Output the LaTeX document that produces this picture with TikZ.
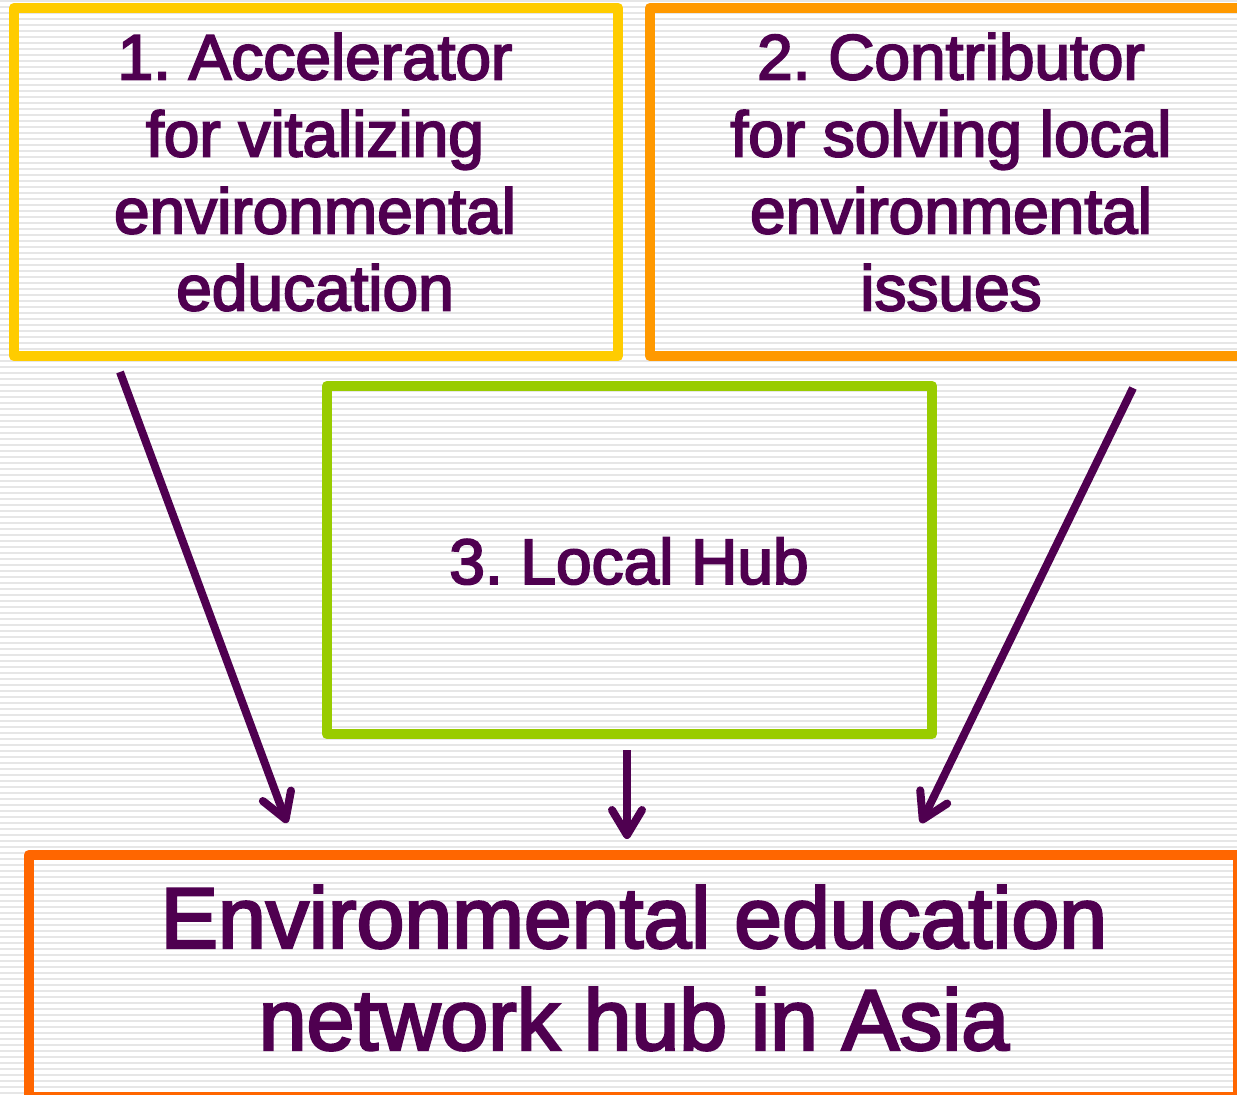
\documentclass[tikz,border=0pt]{standalone}
\usepackage{fontspec}
\setmainfont{Liberation Sans}[FakeBold=3]
\frenchspacing
\usetikzlibrary{arrows.meta}

\definecolor{txtpurple}{HTML}{4F0050}
\definecolor{accyellow}{HTML}{FFCC00}
\definecolor{conorange}{HTML}{FF9900}
\definecolor{hubgreen}{HTML}{99CC00}
\definecolor{netorange}{HTML}{FF6600}
\definecolor{stripegray}{HTML}{E6E6E6}

\begin{document}
\begin{tikzpicture}[x=1pt,y=-1pt,
  box/.style={draw,line width=10.5pt,line join=round,inner sep=0pt},
  boxtext/.style={text=txtpurple,align=center,inner sep=0pt,font=\fontsize{64}{77}\selectfont},
  flow/.style={draw=txtpurple,line width=8pt,-{Straight Barb[length=25pt,width=30pt,line cap=round,line join=round]}},
  stripe/.style={stripegray,line width=2.6pt}]

\useasboundingbox (0,0) rectangle (1237,1095);
\clip (0,0) rectangle (1237,1095);
\fill[white] (0,0) rectangle (1237,1095);

% \draw [red] (0,0) grid[step=100] (1237,1095);
\foreach \y in {1,7,...,1095}
  \draw[stripe] (0,\y) -- (1237,\y);

\node[box,draw=accyellow,minimum width=604,minimum height=348] (acc) at (316,182) {};
\node[box,draw=conorange,minimum width=602,minimum height=348] (con) at (951,182) {};
\node[box,draw=hubgreen,minimum width=605,minimum height=348] (hub) at (629.5,560) {};
\node[box,draw=netorange,minimum width=1209,minimum height=242] (net) at (633.5,976) {};

\node[boxtext] (acc-txt) at (315,172) {1. Accelerator\\for vitalizing\\environmental\\education};
\node[boxtext] (con-txt) at (951,172) {2. Contributor\\for solving local\\environmental\\issues};
\node[boxtext] (hub-txt) at (629,561) {3. Local Hub};
\node[boxtext,font=\fontsize{86}{102}\selectfont] (net-txt) at (634,968)
  {Environmental education\\network hub in Asia};

\coordinate (acc-out) at (120,372);
\coordinate (con-out) at (1133,388);
\coordinate (hub-out) at (627,750);
\coordinate (net-left) at (287,823);
\coordinate (net-mid) at (627,839);
\coordinate (net-right) at (921,823);

\draw[flow] (acc-out) -- (net-left);
\draw[flow] (hub-out) -- (net-mid);
\draw[flow] (con-out) -- (net-right);

\end{tikzpicture}
\end{document}
